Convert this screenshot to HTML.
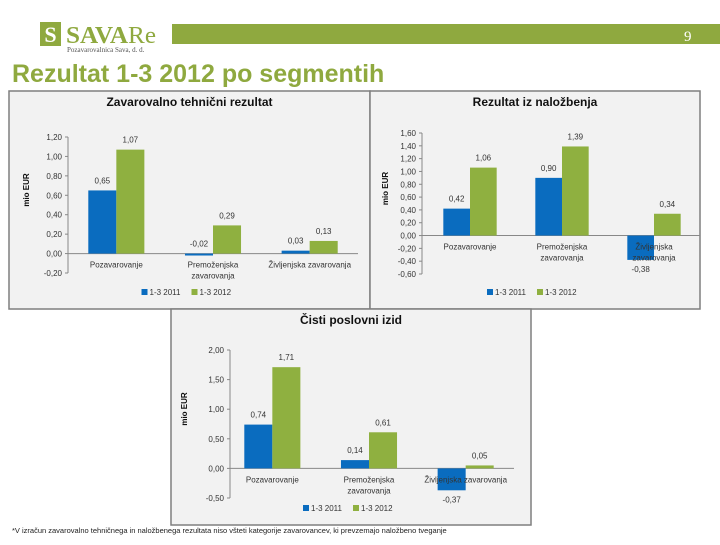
<!DOCTYPE html>
<html><head><meta charset="utf-8"><style>
body{margin:0;width:720px;height:540px;overflow:hidden;background:#fff;font-family:"Liberation Sans",sans-serif;}
svg text{font-family:"Liberation Sans",sans-serif;}
</style></head><body>
<svg id="s" width="720" height="540" xmlns="http://www.w3.org/2000/svg">
<rect x="0" y="0" width="720" height="540" fill="#fff"/>
<g>
<rect x="40" y="22" width="21" height="24" fill="#8fa93f"/>
<text x="50.5" y="42" font-size="22" font-weight="bold" fill="#fff" text-anchor="middle" style="font-family:'Liberation Serif',serif">S</text>
<text x="66" y="43" font-size="24" fill="#8fa93f" style="font-family:'Liberation Serif',serif" font-weight="bold" textLength="90" lengthAdjust="spacingAndGlyphs">SAVA<tspan font-weight="normal">Re</tspan></text>
<text x="67" y="52" font-size="7" fill="#555" style="font-family:'Liberation Serif',serif">Pozavarovalnica Sava, d. d.</text>
<rect x="172" y="24" width="548" height="20" fill="#8fa93f"/>
<text x="684" y="41" font-size="15" fill="#fff" style="font-family:'Liberation Serif',serif">9</text>
<text x="12" y="82" font-size="25" font-weight="bold" fill="#8fa93f">Rezultat 1-3 2012 po segmentih</text>
</g>
<g id="charts"></g>
<text x="12" y="533" font-size="7.5" fill="#222">*V izračun zavarovalno tehničnega in naložbenega rezultata niso všteti kategorije zavarovancev, ki prevzemajo naložbeno tveganje</text>
</svg>
<script>
const ns="http://www.w3.org/2000/svg";
const categories1=["Pozavarovanje","Premoženjska|zavarovanja","Življenjska zavarovanja"];
const s2011_1=[0.65,-0.02,0.03];
const s2012_1=[1.07,0.29,0.13];
const ticks1=[1.2,1.0,0.8,0.6,0.4,0.2,0,-0.2];
const categories2=["Pozavarovanje","Premoženjska|zavarovanja","Življenjska|zavarovanja"];
const s2011_2=[0.42,0.90,-0.38];
const s2012_2=[1.06,1.39,0.34];
const ticks2=[1.6,1.4,1.2,1.0,0.8,0.6,0.4,0.2,0,-0.2,-0.4,-0.6];
const categories3=["Pozavarovanje","Premoženjska|zavarovanja","Življenjska zavarovanja"];
const s2011_3=[0.74,0.14,-0.37];
const s2012_3=[1.71,0.61,0.05];
const ticks3=[2.0,1.5,1.0,0.5,0,-0.5];
const series=["1-3 2011","1-3 2012"];
const colors=["#0a6cbf","#8fb040"];
const root=document.getElementById('charts');
function el(t,a,p){const e=document.createElementNS(ns,t);for(const k in a)e.setAttribute(k,a[k]);(p||root).appendChild(e);return e;}
function fmt(v){return v.toFixed(2).replace('.',',');}
function chart(cfg,cats,a,b,ticks){
  const g=el('g',{});
  
  
  el('rect',{x:cfg.bx,y:cfg.by,width:cfg.bw,height:cfg.bh,fill:'#f2f2f2',stroke:'#7f7f7f','stroke-width':1.5},g);
  const t=el('text',{x:cfg.bx+cfg.bw/2,y:cfg.by+15,'font-size':12,'font-weight':'bold','text-anchor':'middle',fill:'#111'},g);t.textContent=cfg.title;
  
  const tMax=ticks[0],tMin=ticks[ticks.length-1];
  const y=v=>cfg.yTop+(tMax-v)/(tMax-tMin)*(cfg.yBot-cfg.yTop);
  const catW=(cfg.x1-cfg.x0)/cats.length;
  const cx=i=>cfg.x0+(i+0.5)*catW;
  const bw=catW*0.29;
  el('line',{x1:cfg.ax,x2:cfg.ax,y1:y(tMax),y2:y(tMin),stroke:'#888'},g);
  ticks.forEach(v=>{
    el('line',{x1:cfg.ax-3,x2:cfg.ax,y1:y(v),y2:y(v),stroke:'#888'},g);
    const tx=el('text',{x:cfg.ax-6,y:y(v)+3,'font-size':8,'text-anchor':'end',fill:'#333'},g);tx.textContent=fmt(v);
    
  });
  el('line',{x1:cfg.ax,x2:cfg.x1,y1:y(0),y2:y(0),stroke:'#888'},g);
  const yt=el('text',{x:0,y:0,'font-size':8,'font-weight':'bold','text-anchor':'middle',fill:'#111',transform:`translate(${cfg.bx+cfg.ylx},${(y(tMax)+y(tMin))/2-15}) rotate(-90)`},g);yt.textContent='mio EUR';
  
  [a,b].forEach((arr,si)=>{
    arr.forEach((v,i)=>{
      const x=cx(i)-bw+si*bw;
      const r=el('rect',{x:x,y:Math.min(y(v),y(0)),width:bw,height:Math.abs(y(v)-y(0)),fill:colors[si]},g);
      
      
      const small=Math.abs(y(v)-y(0))<6;
      const ly=(v>=0||small)?Math.min(y(v),y(0))-7:y(v)+12;
      const l=el('text',{x:x+bw/2,y:ly,'font-size':8,'text-anchor':'middle',fill:'#333'},g);l.textContent=fmt(v);
      
    });
  });
  cats.forEach((c,i)=>{
    c.split('|').forEach((ln,j)=>{
      const ct=el('text',{x:cx(i),y:y(0)+14+j*11,'font-size':8,'text-anchor':'middle',fill:'#333'},g);ct.textContent=ln;
      
    });
  });
  const lx=cfg.bx+cfg.bw/2-48, ly=cfg.by+cfg.bh-14;
  series.forEach((s,i)=>{
    const sw=el('rect',{x:lx+i*50,y:ly-6,width:6,height:6,fill:colors[i]},g);
    
    const lt=el('text',{x:lx+i*50+8,y:ly,'font-size':8,fill:'#333'},g);lt.textContent=s;
    
  });
}
chart({name:'chart-underwriting-result',title:'Zavarovalno tehnični rezultat',bx:9,by:91,bw:361,bh:218,yTop:137,yBot:273,ax:68,x0:68,x1:358,ylx:20},categories1,s2011_1,s2012_1,ticks1);
chart({name:'chart-investment-result',title:'Rezultat iz naložbenja',bx:370,by:91,bw:330,bh:218,yTop:133,yBot:274,ax:422,x0:424,x1:700,ylx:18},categories2,s2011_2,s2012_2,ticks2);
chart({name:'chart-net-profit',title:'Čisti poslovni izid',bx:171,by:309,bw:360,bh:216,yTop:350,yBot:498,ax:230,x0:224,x1:514,ylx:16},categories3,s2011_3,s2012_3,ticks3);
</script>
</body></html>
